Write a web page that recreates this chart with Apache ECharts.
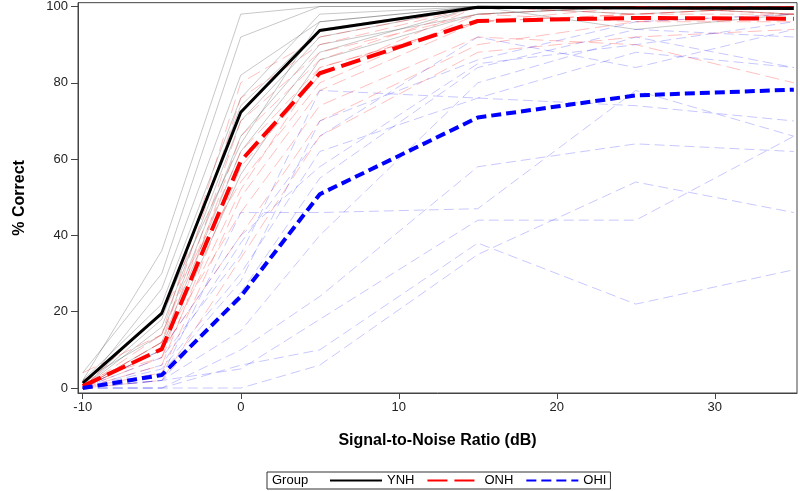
<!DOCTYPE html>
<html>
<head>
<meta charset="utf-8">
<script src="https://cdn.jsdelivr.net/npm/echarts@6/dist/echarts.min.js"></script>
<style>
  html, body { margin: 0; padding: 0; background: #fff; }
  #chart { width: 800px; height: 491px; }
</style>
</head>
<body>
<div id="chart"></div>
<script>
// SNR levels (dB)
var snr = [-10, -5, 0, 5, 15, 25, 35];

// group means
var meanYNH = [1.3, 19.6, 72.3, 93.7, 99.8, 99.6, 99.5];
var meanONH = [0.5, 10.2, 59.5, 82.5, 96.2, 97.0, 96.8];
var meanOHI = [0.0, 3.4, 24.0, 50.8, 70.9, 76.7, 78.2];

// individual listeners
var indYNH = [
  [2, 36, 98, 100, 100, 100, 100],
  [4, 30, 92, 100, 100, 100, 100],
  [0, 26, 82, 96, 100, 100, 100],
  [2, 22, 76, 98, 100, 100, 100],
  [0, 18, 74, 94, 100, 98, 100],
  [0, 16, 70, 92, 100, 100, 98],
  [2, 14, 66, 90, 98, 100, 100],
  [0, 12, 62, 88, 100, 100, 100],
  [0, 20, 64, 96, 100, 94, 98],
  [0, 10, 56, 86, 98, 100, 100]
];
var indONH = [
  [4, 14, 80, 92, 100, 100, 100],
  [0, 12, 76, 90, 100, 100, 100],
  [0, 10, 70, 88, 98, 100, 98],
  [0, 8, 66, 86, 100, 98, 100],
  [0, 14, 62, 84, 96, 100, 100],
  [0, 6, 58, 82, 100, 100, 98],
  [0, 20, 54, 80, 98, 96, 96],
  [0, 4, 50, 78, 96, 98, 100],
  [0, 12, 46, 74, 92, 90, 80],
  [0, 10, 40, 70, 90, 96, 98],
  [0, 2, 34, 66, 88, 92, 94],
  [2, 8, 52, 84, 96, 98, 98]
];
var indOHI = [
  [0, 0, 6, 10, 38, 22, 31],
  [0, 0, 0, 6, 35, 54, 46],
  [0, 2, 5, 18, 44, 44, 66],
  [0, 0, 10, 24, 58, 64, 62],
  [0, 3, 46, 46, 47, 78, 66],
  [0, 5, 30, 62, 76, 88, 84],
  [0, 2, 25, 55, 84, 94, 92],
  [0, 8, 35, 78, 76, 74, 70],
  [0, 4, 28, 70, 86, 96, 98],
  [0, 10, 40, 58, 85, 90, 96],
  [0, 6, 38, 66, 92, 84, 94],
  [0, 2, 15, 40, 80, 92, 84]
];

var yTicks = [0, 20, 40, 60, 80, 100];
var xTicks = [-10, 0, 10, 20, 30];

function pairs(vals) {
  return vals.map(function (v, i) { return [snr[i], v]; });
}

var series = [];
indYNH.forEach(function (d) {
  series.push({ type: 'line', data: pairs(d), symbol: 'none', silent: true, z: 1,
    lineStyle: { color: 'rgba(0,0,0,0.22)', width: 1 } });
});
indONH.forEach(function (d) {
  series.push({ type: 'line', data: pairs(d), symbol: 'none', silent: true, z: 1,
    lineStyle: { color: 'rgba(255,0,0,0.25)', width: 1, type: [14, 6] } });
});
indOHI.forEach(function (d) {
  series.push({ type: 'line', data: pairs(d), symbol: 'none', silent: true, z: 1,
    lineStyle: { color: 'rgba(0,0,255,0.22)', width: 1, type: [10, 5] } });
});
series.push({ name: 'YNH', type: 'line', data: pairs(meanYNH), symbol: 'none', z: 5,
  lineStyle: { color: '#000', width: 3 }, itemStyle: { color: '#000' } });
series.push({ name: 'ONH', type: 'line', data: pairs(meanONH), symbol: 'none', z: 5,
  lineStyle: { color: '#ff0000', width: 4, type: [20, 7] }, itemStyle: { color: '#ff0000' } });
series.push({ name: 'OHI', type: 'line', data: pairs(meanOHI), symbol: 'none', z: 5,
  lineStyle: { color: '#0000ff', width: 4, type: [10, 5] }, itemStyle: { color: '#0000ff' } });

var myChart = echarts.init(document.getElementById('chart'));
var option = {
  animation: false,
  textStyle: { fontFamily: 'Liberation Sans, Arial, sans-serif' },
  grid: {
    left: 78, right: 3, top: 2, bottom: 98,
    show: true, borderColor: '#444', borderWidth: 1
  },
  xAxis: {
    type: 'value', min: -10.3, max: 35.2,
    name: 'Signal-to-Noise Ratio (dB)', nameLocation: 'middle', nameGap: 40,
    nameTextStyle: { fontSize: 16, fontWeight: 'bold', color: '#000' },
    axisLine: { show: true, onZero: false, lineStyle: { color: '#444' } },
    axisTick: { show: true, length: 6, customValues: xTicks, lineStyle: { color: '#444' } },
    axisLabel: { customValues: xTicks, fontSize: 13, color: '#222', margin: 8 },
    splitLine: { show: false }
  },
  yAxis: {
    type: 'value', min: -1.3, max: 101,
    name: '% Correct', nameLocation: 'middle', nameGap: 50,
    nameTextStyle: { fontSize: 16, fontWeight: 'bold', color: '#000' },
    axisLine: { show: true, onZero: false, lineStyle: { color: '#444' } },
    axisTick: { show: true, length: 7, customValues: yTicks, lineStyle: { color: '#444' } },
    axisLabel: { customValues: yTicks, fontSize: 13, color: '#222', margin: 10 },
    splitLine: { show: false }
  },
  legend: {
    data: ['YNH', 'ONH', 'OHI'],
    left: 267, top: 472,
    padding: [2, 4, 2, 62],
    itemWidth: 52, itemHeight: 10, itemGap: 12,
    itemStyle: { opacity: 0 },
    borderColor: '#333', borderWidth: 1,
    textStyle: { fontSize: 13, color: '#000' }
  },
  graphic: [{
    type: 'text', left: 272, top: 474, z: 100,
    style: { text: 'Group', fontSize: 13, fill: '#000', fontFamily: 'Liberation Sans, Arial, sans-serif' }
  }],
  series: series
};
myChart.setOption(option);
</script>
</body>
</html>
